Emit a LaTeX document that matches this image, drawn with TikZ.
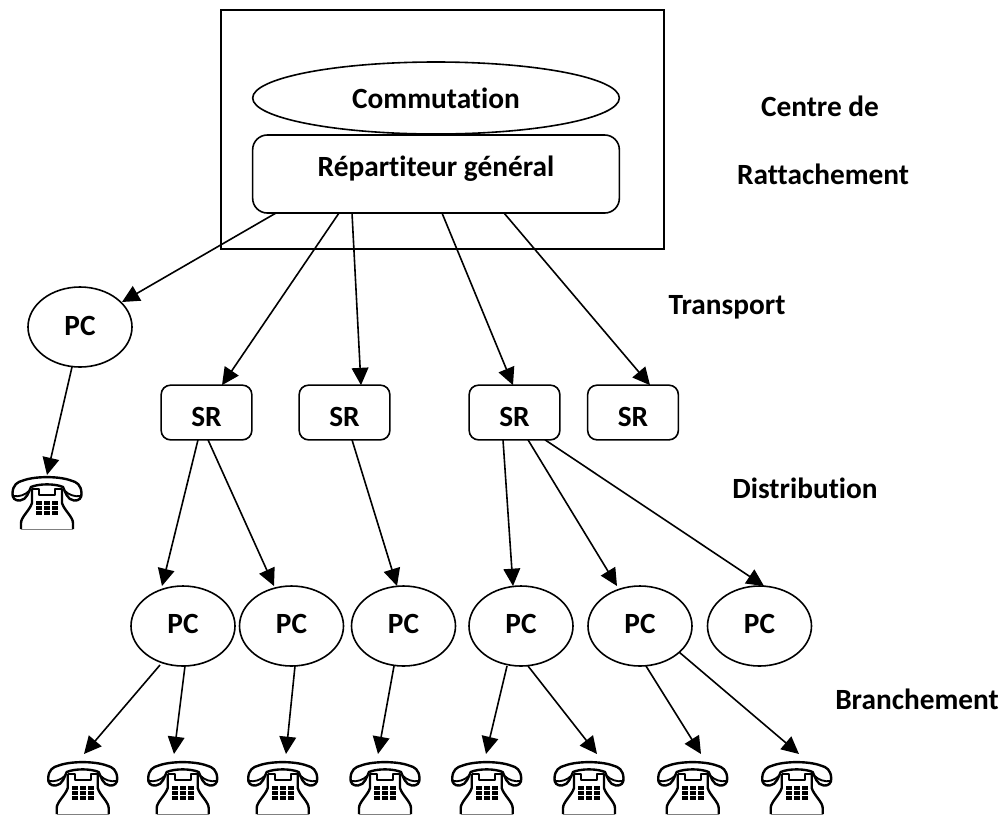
\documentclass[tikz,border=0pt]{standalone}
\usepackage{fontspec}
\setmainfont[Ligatures=CommonOff]{Carlito}
\usetikzlibrary{shapes.geometric,arrows.meta,calc}
\tikzset{
 x=0.75pt,y=-0.75pt,
 every node/.style={font=\fontsize{22pt}{26pt}\bfseries\selectfont,inner sep=0pt,outer sep=0pt},
 pcnode/.style={draw,line width=1.2pt,ellipse,minimum width=78pt,minimum height=60pt},
 srnode/.style={draw,line width=1.2pt,rounded corners=7pt,minimum width=68pt,minimum height=41pt},
 link/.style={line width=1.2pt,-{Triangle[length=13pt,width=12.5pt]}},
 phone/.pic={
  % body
  \draw[line width=1.8pt,line join=round,fill=white]
    (-15,12) -- (-15,26) .. controls (-17,33) and (-26,40) .. (-26,46) -- (-26,52)
    (26,52) -- (26,46) .. controls (26,40) and (17,33) .. (15,26) -- (15,12);
  \draw[line width=0.5pt,gray] (-26,52) -- (26,52);
  % handset
  \draw[line width=1.8pt,line join=round,fill=white]
    (-16,10) .. controls (-8,6.5) and (8,6.5) .. (16,10)
    .. controls (18,14) and (20,23) .. (27,23.5)
    .. controls (32,24) and (35,21) .. (34.5,16)
    .. controls (34,8) and (30,5) .. (24,3.5)
    .. controls (12,-1) and (-12,-1) .. (-24,3.5)
    .. controls (-30,5) and (-34,8) .. (-34.5,16)
    .. controls (-35,21) and (-32,24) .. (-27,23.5)
    .. controls (-20,23) and (-18,14) .. (-16,10) -- cycle;
  \draw[line width=1.4pt] (-34,19) .. controls (-28,20) and (-22,18) .. (-18,14)
    (34,19) .. controls (28,20) and (22,18) .. (18,14);
  % cradle
  \draw[line width=1.8pt,line join=round] (-15,12) -- (-8,12) -- (-8,18) -- (8,18) -- (8,12) -- (15,12);
  \foreach \i in {-1,0,1}\foreach \j in {0,1,2}
    \fill (\i*8-3,24+\j*5.2) rectangle ++(6,3.8);
 }
}
\begin{document}
\begin{tikzpicture}
\useasboundingbox (0,0) rectangle (1006,815);
\node[draw,line width=1.2pt,minimum width=332pt,minimum height=179pt] (cr) at (442.5,129.5) {};
\node[draw,line width=1.2pt,ellipse,minimum width=275pt,minimum height=54pt] (com) at (436,98) {Commutation};
\node[draw,line width=1.2pt,rounded corners=11pt,minimum width=275pt,minimum height=58.5pt] (rg) at (436,174) {};
\node (rgt) at (436,169) {Répartiteur général};
\node (t1) at (820,106) {Centre de};
\node (t2) at (823,174) {Rattachement};
\node (t3) at (727,307) {Transport};
\node (t4) at (805,488) {Distribution};
\node (t5) at (917,699) {Branchement};
\node[pcnode] (pc0) at (80,327) {};
\node (pc0t) at (80,326) {PC};
\node[srnode] (sr1) at (206.5,412.5) {};
\node[srnode] (sr2) at (344.5,412.5) {};
\node[srnode] (sr3) at (514.5,412.5) {};
\node[srnode] (sr4) at (633,412.5) {};
\node (sr1t) at (206.5,417) {SR};
\node (sr2t) at (344.5,417) {SR};
\node (sr3t) at (514.5,417) {SR};
\node (sr4t) at (633,417) {SR};
\foreach \n/\x in {pc1/183,pc2/291.5,pc3/403.5,pc4/521,pc5/640,pc6/759.5}{
  \node[pcnode] (\n) at (\x,626) {};
  \node (\n t) at (\x,624) {PC};
}
\foreach \n/\x/\y in {p0/47/477,p1/82.7/762,p2/182.7/762,p3/282.7/762,p4/385/762,p5/486.7/762,p6/589/762,p7/692.7/762,p8/796.7/762}{
  \pic at (\x,\y) {phone};
  \coordinate (\n) at (\x,\y);
}
\draw[link] ($(rg.south)+(-160,0)$) -- ($(pc0.north)+(42,15)$);
\draw[link] ($(rg.south)+(-97,0)$) -- ($(sr1.north)+(15.5,0)$);
\draw[link] ($(rg.south)+(-84,0)$) -- ($(sr2.north)+(16.5,0)$);
\draw[link] ($(rg.south)+(6,0)$) -- ($(sr3.north)+(-1.5,0)$);
\draw[link] ($(rg.south)+(68,0)$) -- ($(sr4.north)+(17,0)$);
\draw[link] ($(pc0.south)+(-8,0)$) -- ($(p0)+(0,-2)$);
\draw[link] ($(sr1.south)+(-8.5,0)$) -- ($(pc1.north)+(-21,0)$);
\draw[link] ($(sr1.south)+(1.5,0)$) -- ($(pc2.north)+(-17.5,0)$);
\draw[link] ($(sr2.south)+(7.5,0)$) -- ($(pc3.north)+(-6.5,0)$);
\draw[link] ($(sr3.south)+(-11.5,0)$) -- ($(pc4.north)+(-8,0)$);
\draw[link] ($(sr3.south)+(13.5,0)$) -- ($(pc5.north)+(-23,0)$);
\draw[link] ($(sr3.south)+(30.5,0)$) -- ($(pc6.north)+(4.5,0)$);
\draw[link] ($(pc1.south)+(-23,-1)$) -- ($(p1)+(1.3,-8)$);
\draw[link] ($(pc1.south)+(2,0)$) -- ($(p2)+(-8.7,-8)$);
\draw[link] ($(pc2.south)+(3.5,0)$) -- ($(p3)+(3.3,-8)$);
\draw[link] ($(pc3.south)+(-9.5,0)$) -- ($(p4)+(-7,-8)$);
\draw[link] ($(pc4.south)+(-14,0)$) -- ($(p5)+(-.7,-8)$);
\draw[link] ($(pc4.south)+(7,0)$) -- ($(p6)+(8,-8)$);
\draw[link] ($(pc5.south)+(6,0)$) -- ($(p7)+(8.3,-8)$);
\draw[link] ($(pc5.south)+(39,-14)$) -- ($(p8)+(2.3,-8)$);
\end{tikzpicture}
\end{document}
